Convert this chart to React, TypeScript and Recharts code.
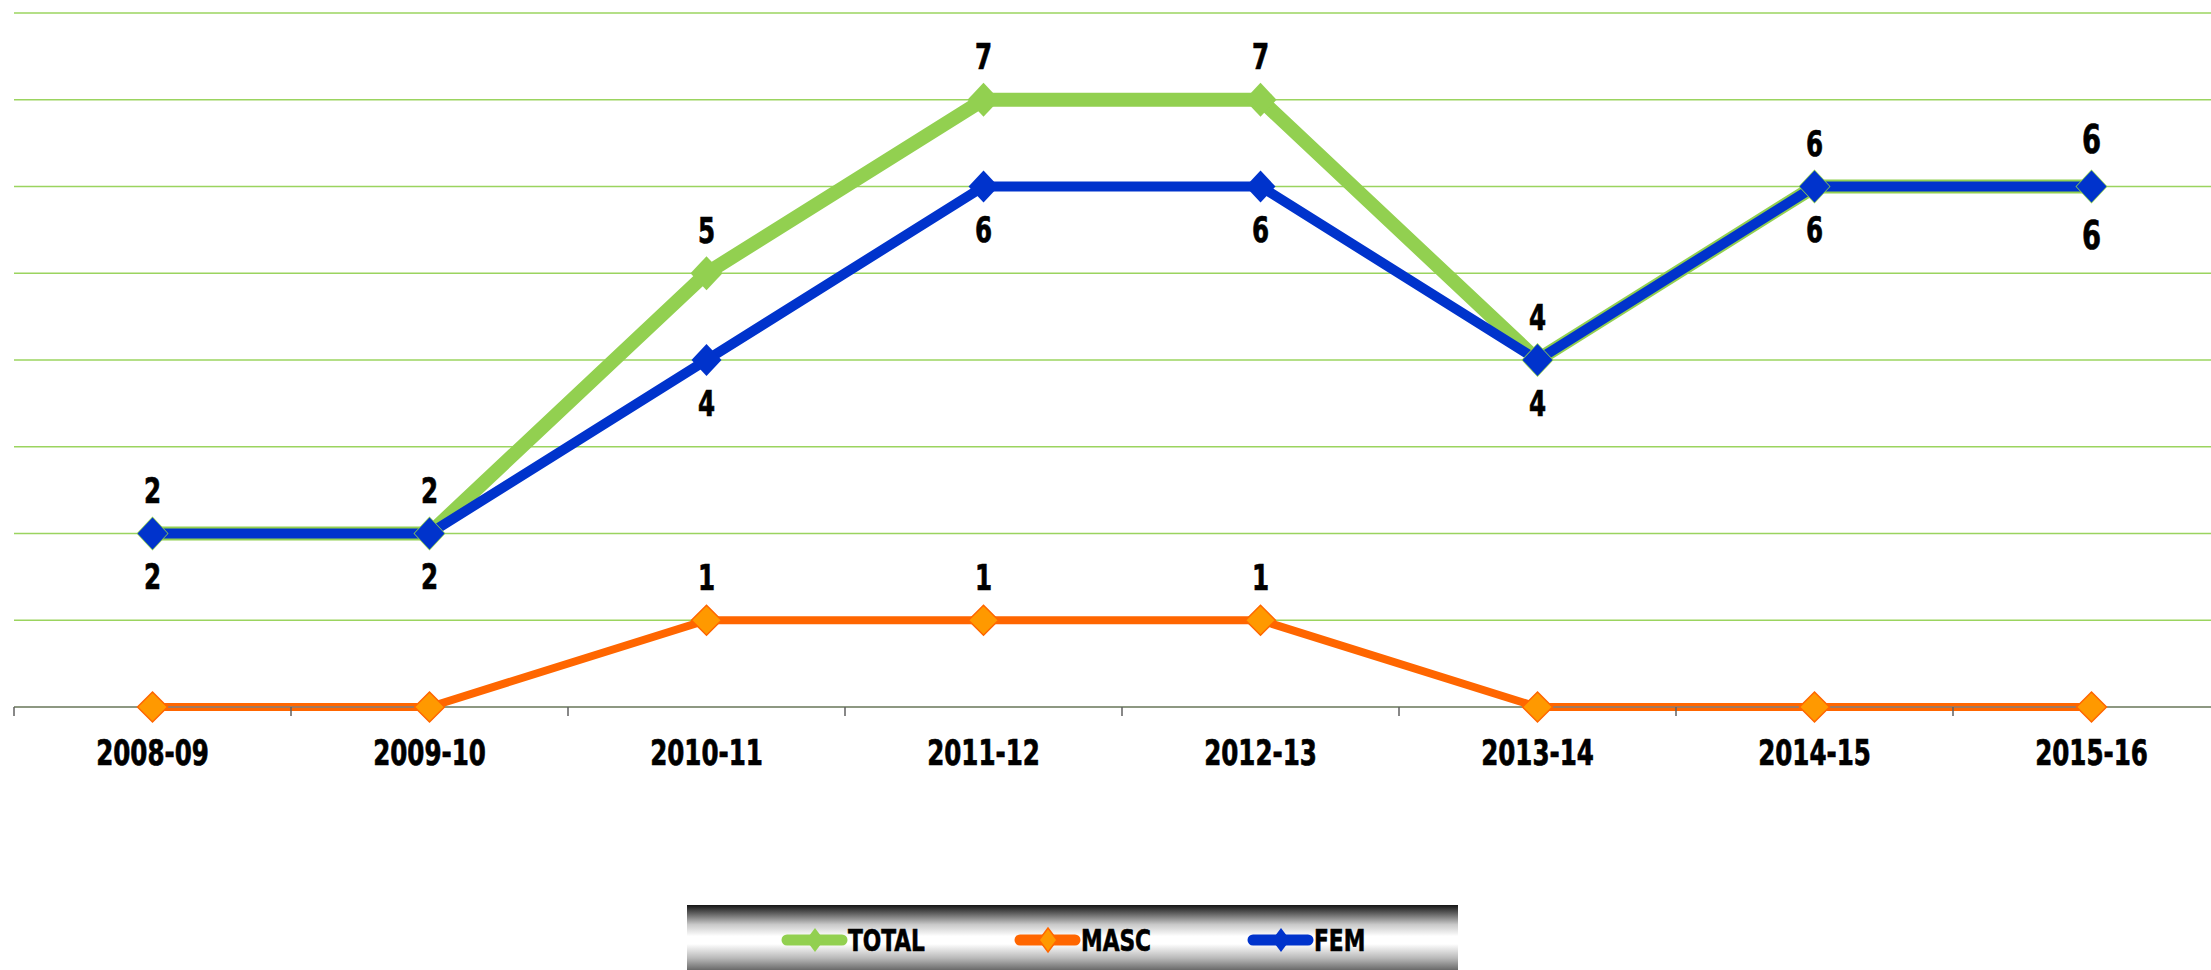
import React from "react";
import { ComposedChart, Line, XAxis, YAxis, CartesianGrid, LabelList, Legend } from "recharts";

const years = ["2008-09", "2009-10", "2010-11", "2011-12", "2012-13", "2013-14", "2014-15", "2015-16"];
const totalValues = [2, 2, 5, 7, 7, 4, 6, 6];
const mascValues = [0, 0, 1, 1, 1, 0, 0, 0];
const femValues = [2, 2, 4, 6, 6, 4, 6, 6];
const yTicks = [0, 1, 2, 3, 4, 5, 6, 7, 8];

const GREEN = "#92D050";
const ORANGE = "#FF6600";
const ORANGE_FILL = "#FF9900";
const BLUE = "#0033CC";
const FONT = "'DejaVu Sans Condensed', 'DejaVu Sans', sans-serif";
const SQUEEZE = 0.78; // the original face is a heavy condensed one

const CHART_W = 2240;
const CHART_H = 970;
const margin = { top: 13, right: 10, bottom: 0, left: 14 };
const band = (CHART_W - margin.left - margin.right) / years.length;

const rows = years.map((y, i) => ({ year: y, total: totalValues[i], masc: mascValues[i], fem: femValues[i] }));

function diamond(fill: string, stroke: string | undefined, hw: number, hh: number) {
  return (p: any) => {
    const { cx, cy, index } = p;
    if (cx == null || cy == null) return <g key={index} />;
    const d = `M${cx},${cy - hh} L${cx + hw},${cy} L${cx},${cy + hh} L${cx - hw},${cy} Z`;
    return <path key={index} d={d} fill={fill} stroke={stroke ?? "none"} strokeWidth={stroke ? 1.5 : 0} />;
  };
}

// narrow heavy text centred on (x, y)
const Narrow = ({ x, y, size, children }: { x: number; y: number; size: number; children: React.ReactNode }) => (
  <text
    transform={`translate(${x},${y}) scale(${SQUEEZE},1)`} dy={size * 0.36} textAnchor="middle"
    fontFamily={FONT} fontWeight="bold" fontSize={size} fill="#000" stroke="#000" strokeWidth={0.7}
  >
    {children}
  </text>
);

// labels above (dir -1) or below (dir 1) the point; last point drawn a bit larger
function pointLabel(dir: number, hideZero = false) {
  return (p: any) => {
    const { x, y, value, index } = p;
    if (hideZero && value === 0) return null;
    const last = index === years.length - 1;
    return (
      <Narrow key={index} x={x} y={y + dir * (last ? 48 : 43)} size={last ? 39 : 35}>
        {value}
      </Narrow>
    );
  };
}

const XTick = (p: any) => {
  const { x, y, payload } = p;
  return (
    <g>
      <line x1={x - band / 2} x2={x - band / 2} y1={y} y2={y + 9} stroke="#606060" strokeWidth={1.5} />
      <Narrow x={x} y={y + 45} size={35}>{payload.value}</Narrow>
    </g>
  );
};

const legendItems = [
  { name: "TOTAL", at: 95, color: GREEN, fill: GREEN, stroke: undefined as string | undefined },
  { name: "MASC", at: 328, color: ORANGE, fill: ORANGE_FILL, stroke: ORANGE },
  { name: "FEM", at: 561, color: BLUE, fill: BLUE, stroke: undefined as string | undefined },
];

const LegendBox = () => (
  <div
    style={{
      width: 771, height: 65,
      background: "linear-gradient(to bottom, #141414 0%, #5a5a5a 12%, #c8c8c8 30%, #ffffff 48%, #ffffff 60%, #b8b8b8 82%, #6a6a6a 100%)",
    }}
  >
    <svg width={771} height={65}>
      {legendItems.map((it) => (
        <g key={it.name}>
          <line x1={it.at + 5} x2={it.at + 60} y1={35} y2={35} stroke={it.color} strokeWidth={11} strokeLinecap="round" />
          <path
            d={`M${it.at + 33},${23} L${it.at + 42},${35} L${it.at + 33},${47} L${it.at + 24},${35} Z`}
            fill={it.fill} stroke={it.stroke ?? "none"} strokeWidth={1.5}
          />
          <text
            transform={`translate(${it.at + 66},35) scale(${SQUEEZE},1)`} dy={11}
            fontFamily={FONT} fontWeight="bold" fontSize={31} fill="#000" stroke="#000" strokeWidth={0.6}
          >
            {it.name}
          </text>
        </g>
      ))}
    </svg>
  </div>
);

export default function App() {
  return (
    <div style={{ position: "absolute", left: 0, top: 0, width: 2211, height: 970, overflow: "hidden", background: "#fff" }}>
      <ComposedChart width={CHART_W} height={CHART_H} data={rows} margin={margin}>
        <CartesianGrid horizontal vertical={false} stroke="#9BD45F" strokeWidth={1.5} />
        <XAxis
          dataKey="year" scale="band" tick={<XTick />} tickLine={false} tickSize={0} tickMargin={0} height={263}
          axisLine={{ stroke: "#808080", strokeWidth: 1.5 }} interval={0}
        />
        <YAxis hide domain={[0, 8]} ticks={yTicks} />
        <Legend
          layout="vertical" verticalAlign="middle" align="center" content={<LegendBox />}
          wrapperStyle={{ left: 687, top: 905, width: 771, height: 65 }}
        />
        <Line
          dataKey="total" name="TOTAL" stroke={GREEN} strokeWidth={14} isAnimationActive={false}
          dot={diamond(GREEN, undefined, 16, 17)} activeDot={false}
        >
          <LabelList dataKey="total" content={pointLabel(-1)} />
        </Line>
        <Line
          dataKey="masc" name="MASC" stroke={ORANGE} strokeWidth={8} isAnimationActive={false}
          dot={diamond(ORANGE_FILL, ORANGE, 15, 15)} activeDot={false}
        >
          <LabelList dataKey="masc" content={pointLabel(-1, true)} />
        </Line>
        <Line
          dataKey="fem" name="FEM" stroke={BLUE} strokeWidth={10} isAnimationActive={false}
          dot={diamond(BLUE, undefined, 15, 16)} activeDot={false}
        >
          <LabelList dataKey="fem" content={pointLabel(1)} />
        </Line>
      </ComposedChart>
    </div>
  );
}
